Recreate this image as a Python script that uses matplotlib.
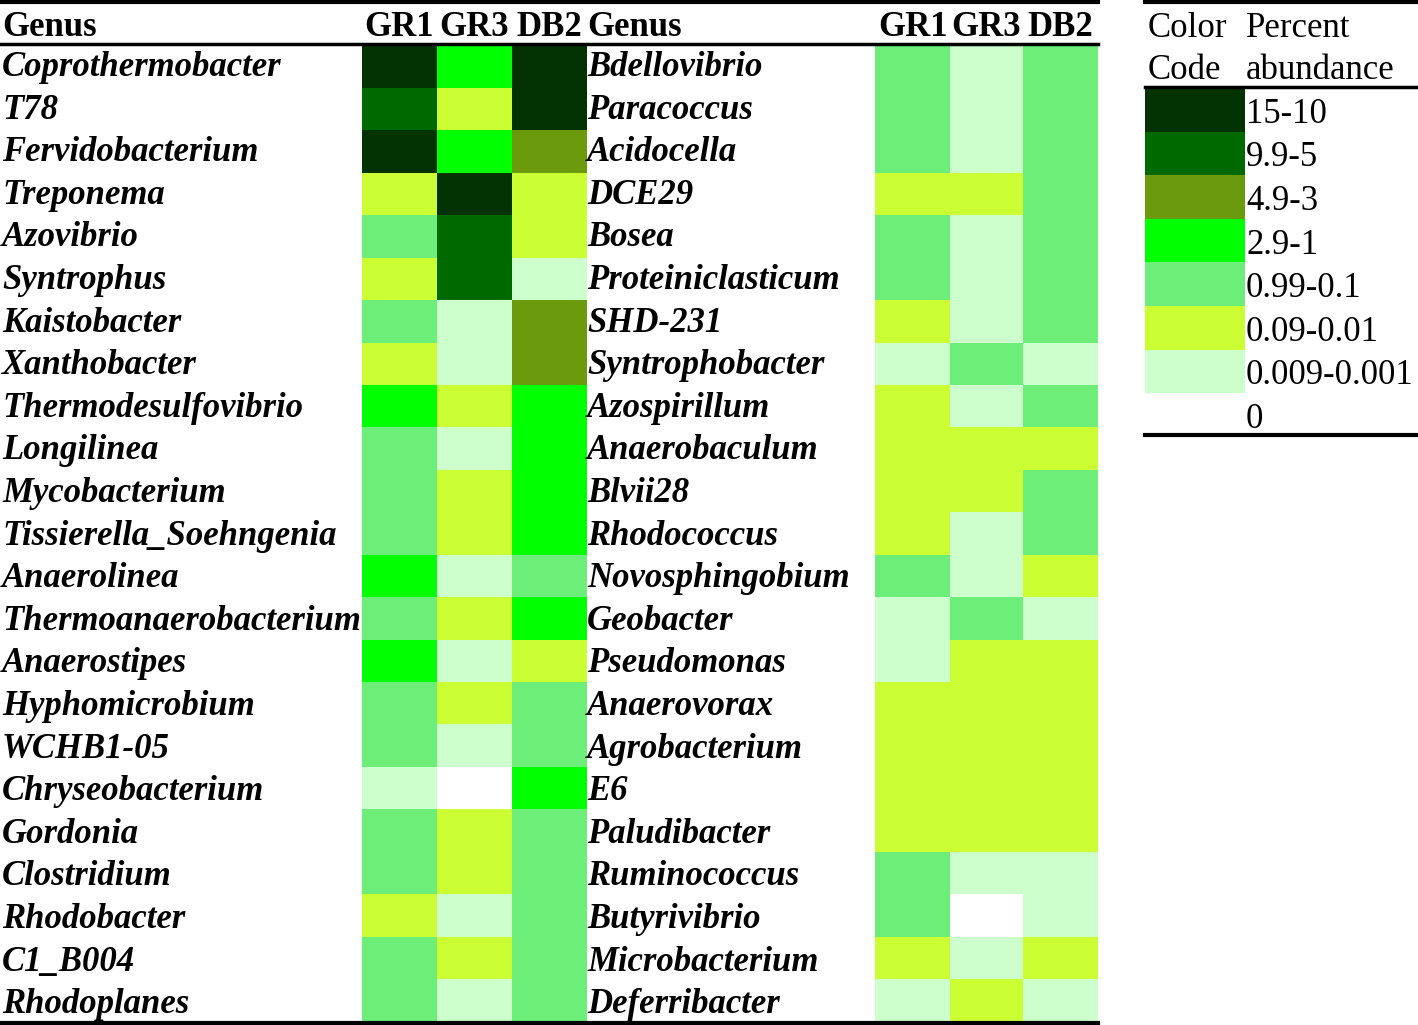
import numpy as np
import matplotlib
matplotlib.use("Agg")
import matplotlib.pyplot as plt
from matplotlib.colors import ListedColormap, BoundaryNorm

# === data: abundance class per genus (0 = zero ... 7 = 15-10 %) ===
samples = ["GR1", "GR3", "DB2"]

left_genus = ["Coprothermobacter", "T78", "Fervidobacterium", "Treponema", "Azovibrio",
              "Syntrophus", "Kaistobacter", "Xanthobacter", "Thermodesulfovibrio",
              "Longilinea", "Mycobacterium", "Tissierella_Soehngenia", "Anaerolinea",
              "Thermoanaerobacterium", "Anaerostipes", "Hyphomicrobium", "WCHB1-05",
              "Chryseobacterium", "Gordonia", "Clostridium", "Rhodobacter", "C1_B004",
              "Rhodoplanes"]
left_gr1 = [7, 6, 7, 2, 3, 2, 3, 2, 4, 3, 3, 3, 4, 3, 4, 3, 3, 1, 3, 3, 2, 3, 3]
left_gr3 = [4, 2, 4, 7, 6, 6, 1, 1, 2, 1, 2, 2, 1, 2, 1, 2, 1, 0, 2, 2, 1, 2, 1]
left_db2 = [7, 7, 5, 2, 2, 1, 5, 5, 4, 4, 4, 4, 3, 4, 2, 3, 3, 4, 3, 3, 3, 3, 3]

right_genus = ["Bdellovibrio", "Paracoccus", "Acidocella", "DCE29", "Bosea",
               "Proteiniclasticum", "SHD-231", "Syntrophobacter", "Azospirillum",
               "Anaerobaculum", "Blvii28", "Rhodococcus", "Novosphingobium", "Geobacter",
               "Pseudomonas", "Anaerovorax", "Agrobacterium", "E6", "Paludibacter",
               "Ruminococcus", "Butyrivibrio", "Microbacterium", "Deferribacter"]
right_gr1 = [3, 3, 3, 2, 3, 3, 2, 1, 2, 2, 2, 2, 3, 1, 1, 2, 2, 2, 2, 3, 3, 2, 1]
right_gr3 = [1, 1, 1, 2, 1, 1, 1, 3, 1, 2, 2, 1, 1, 3, 2, 2, 2, 2, 2, 1, 0, 1, 2]
right_db2 = [3, 3, 3, 3, 3, 3, 3, 1, 3, 2, 3, 3, 2, 1, 2, 2, 2, 2, 2, 1, 1, 2, 1]

legend_labels = ["15-10", "9.9-5", "4.9-3", "2.9-1", "0.99-0.1", "0.09-0.01",
                 "0.009-0.001", "0"]
legend_levels = [7, 6, 5, 4, 3, 2, 1, 0]

colors = ["#ffffff", "#ccffcc", "#ccff33", "#6cee78", "#00ff00", "#6b9a0c",
          "#006a00", "#033303"]
cmap = ListedColormap(colors)
norm = BoundaryNorm(np.arange(-0.5, 8.5, 1), cmap.N)

W, H = 1418, 1025
fig = plt.figure(figsize=(W / 100, H / 100), dpi=100)
ax = fig.add_axes([0, 0, 1, 1])
ax.set_xlim(0, W)
ax.set_ylim(H, 0)
ax.axis("off")

serif = ["Liberation Serif", "DejaVu Serif"]
fs = 25
y0, row_h = 45.5, 42.43
n = len(left_genus)
y_edges = y0 + row_h * np.arange(n + 1)

# === heat cells ===
left_mat = np.array([left_gr1, left_gr3, left_db2]).T
right_mat = np.array([right_gr1, right_gr3, right_db2]).T
ax.pcolormesh([362, 437, 512, 587], y_edges, left_mat, cmap=cmap, norm=norm)
ax.pcolormesh([875, 950, 1023, 1098], y_edges, right_mat, cmap=cmap, norm=norm)

# === text ===
for i, (lg, rg) in enumerate(zip(left_genus, right_genus)):
    yb = 76 + 42.6 * i
    ax.text(2, yb, lg, family=serif, weight="bold", style="italic", fontsize=fs,
            va="baseline", ha="left")
    ax.text(587, yb, rg, family=serif, weight="bold", style="italic", fontsize=fs,
            va="baseline", ha="left")

hdr_y = 36
ax.text(2, hdr_y, "Genus", family=serif, weight="bold", fontsize=fs, va="baseline")
ax.text(587, hdr_y, "Genus", family=serif, weight="bold", fontsize=fs, va="baseline")
for xs, lab in zip([399.5, 474.5, 549.5], samples):
    ax.text(xs, hdr_y, lab, family=serif, weight="bold", fontsize=fs, va="baseline", ha="center")
for xs, lab in zip([912.5, 986.5, 1060.5], samples):
    ax.text(xs, hdr_y, lab, family=serif, weight="bold", fontsize=fs, va="baseline", ha="center")

# === rules ===
ax.plot([0, 1098], [2, 2], color="black", lw=3)
ax.plot([0, 1098], [44, 44], color="black", lw=2.5)
ax.plot([0, 1098], [1022.5, 1022.5], color="black", lw=3)

# === legend table ===
ax.plot([1145, 1418], [2, 2], color="black", lw=3)
ax.plot([1145, 1418], [87, 87], color="black", lw=2.5)
ax.plot([1145, 1418], [435, 435], color="black", lw=3)
ax.text(1148, 37, "Color", family=serif, fontsize=fs, va="baseline")
ax.text(1148, 79, "Code", family=serif, fontsize=fs, va="baseline")
ax.text(1246, 37, "Percent", family=serif, fontsize=fs, va="baseline")
ax.text(1246, 79, "abundance", family=serif, fontsize=fs, va="baseline")

leg_y0, leg_h = 88, 43.6
leg_edges = leg_y0 + leg_h * np.arange(len(legend_levels) + 1)
ax.pcolormesh([1145, 1245], leg_edges, np.array(legend_levels).reshape(-1, 1),
              cmap=cmap, norm=norm)
for j, lab in enumerate(legend_labels):
    ax.text(1246, leg_y0 + leg_h * (j + 0.5) + 13, lab, family=serif, fontsize=fs,
            va="baseline")

fig.savefig("out.png", dpi=100)
